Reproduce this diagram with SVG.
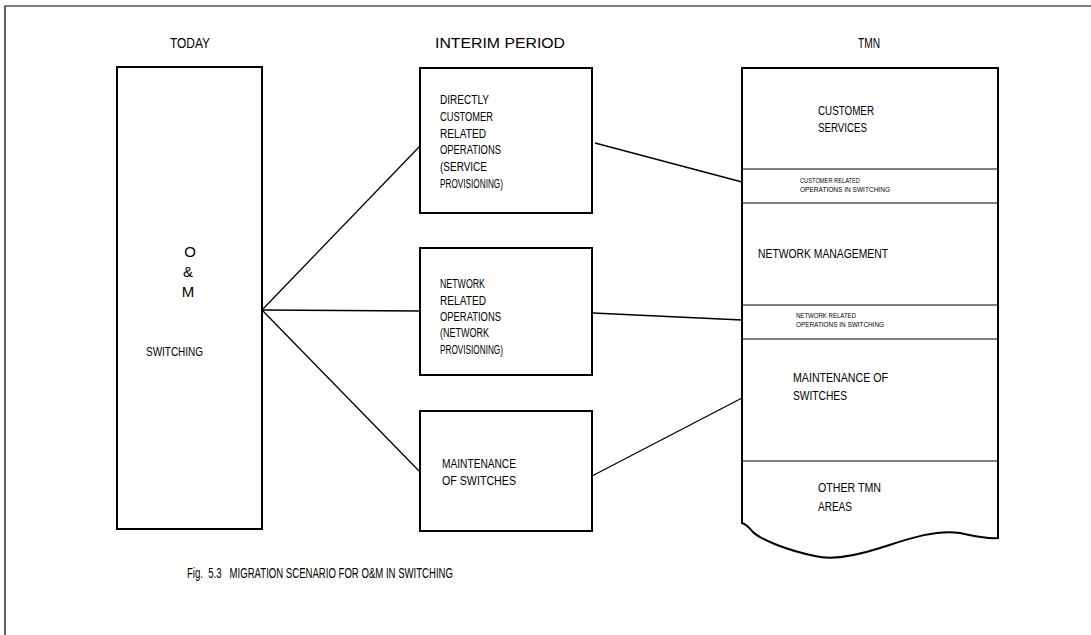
<svg xmlns="http://www.w3.org/2000/svg" width="1091" height="635" viewBox="0 0 1091 635">
<style>
.bg{fill:#ffffff}
.frame{fill:none;stroke:#000;stroke-width:1.2}
.box{fill:none;stroke:#000;stroke-width:2}
.div{fill:none;stroke:#000;stroke-width:1.2}
.conn{fill:none;stroke:#000;stroke-width:1.3}
text{font-family:"Liberation Sans",Arial,sans-serif;fill:#000}
.hd{font-size:15px}
.lb{font-size:12px}
.big{font-size:15px}
.sm{font-size:6.5px}
.cap{font-size:14px;white-space:pre}
</style>
<rect class="bg" x="0" y="0" width="1091" height="635"/>
<g id="frame">
<path class="frame" d="M5,635 L5,6 L1091,6"/>
</g>
<g id="headers">
<text class="hd" x="190" y="48" text-anchor="middle" textLength="40" lengthAdjust="spacingAndGlyphs">TODAY</text>
<text class="hd" x="500" y="48" text-anchor="middle" textLength="130" lengthAdjust="spacingAndGlyphs">INTERIM PERIOD</text>
<text class="hd" x="869" y="48" text-anchor="middle" textLength="22" lengthAdjust="spacingAndGlyphs">TMN</text>
</g>
<g id="connectors">
<line class="conn" x1="262" y1="310" x2="420" y2="146"/>
<line class="conn" x1="262" y1="310" x2="420" y2="311"/>
<line class="conn" x1="262" y1="310" x2="420" y2="472"/>
<line class="conn" x1="595" y1="143" x2="742" y2="182"/>
<line class="conn" x1="593" y1="313" x2="742" y2="320"/>
<line class="conn" x1="592" y1="476" x2="742" y2="398"/>
</g>
<g id="today">
<rect class="box" x="117" y="67" width="145" height="462"/>
<text class="big" x="190" y="257" text-anchor="middle">O</text>
<text class="big" x="188" y="277" text-anchor="middle">&amp;</text>
<text class="big" x="188" y="297" text-anchor="middle">M</text>
<text class="lb" x="146" y="356" textLength="57" lengthAdjust="spacingAndGlyphs">SWITCHING</text>
</g>
<g id="interim-customer">
<rect class="box" x="420" y="68" width="172" height="145"/>
<text class="lb" x="440" y="104" textLength="49" lengthAdjust="spacingAndGlyphs">DIRECTLY</text>
<text class="lb" x="440" y="121" textLength="53" lengthAdjust="spacingAndGlyphs">CUSTOMER</text>
<text class="lb" x="440" y="138" textLength="46" lengthAdjust="spacingAndGlyphs">RELATED</text>
<text class="lb" x="440" y="154" textLength="61" lengthAdjust="spacingAndGlyphs">OPERATIONS</text>
<text class="lb" x="440" y="171" textLength="47" lengthAdjust="spacingAndGlyphs">(SERVICE</text>
<text class="lb" x="440" y="188" textLength="63" lengthAdjust="spacingAndGlyphs">PROVISIONING)</text>
</g>
<g id="interim-network">
<rect class="box" x="420" y="248" width="172" height="127"/>
<text class="lb" x="440" y="288" textLength="45" lengthAdjust="spacingAndGlyphs">NETWORK</text>
<text class="lb" x="440" y="305" textLength="46" lengthAdjust="spacingAndGlyphs">RELATED</text>
<text class="lb" x="440" y="321" textLength="61" lengthAdjust="spacingAndGlyphs">OPERATIONS</text>
<text class="lb" x="440" y="337" textLength="49" lengthAdjust="spacingAndGlyphs">(NETWORK</text>
<text class="lb" x="440" y="354" textLength="63" lengthAdjust="spacingAndGlyphs">PROVISIONING)</text>
</g>
<g id="interim-maintenance">
<rect class="box" x="420" y="411" width="172" height="120"/>
<text class="lb" x="442" y="468" textLength="74" lengthAdjust="spacingAndGlyphs">MAINTENANCE</text>
<text class="lb" x="442" y="485" textLength="74" lengthAdjust="spacingAndGlyphs">OF SWITCHES</text>
</g>
<g id="tmn">
<path class="box" d="M742,523 L742,68 L998,68 L998,538 C985,539 975,536 960,533 C935,529 905,540 880,548 C855,556 830,560 815,556 C790,551 760,540 752,531 C748,526 745,524 742,523 Z"/>
<line class="div" x1="742" y1="169" x2="998" y2="169"/>
<line class="div" x1="742" y1="203" x2="998" y2="203"/>
<line class="div" x1="742" y1="305" x2="998" y2="305"/>
<line class="div" x1="742" y1="339" x2="998" y2="339"/>
<line class="div" x1="742" y1="461" x2="998" y2="461"/>
</g>
<g id="tmn-customer-services">
<text class="lb" x="818" y="115" textLength="56" lengthAdjust="spacingAndGlyphs">CUSTOMER</text>
<text class="lb" x="818" y="132" textLength="49" lengthAdjust="spacingAndGlyphs">SERVICES</text>
</g>
<g id="tmn-customer-ops">
<text class="sm" x="800" y="183" textLength="60" lengthAdjust="spacingAndGlyphs">CUSTOMER RELATED</text>
<text class="sm" x="800" y="192" textLength="90" lengthAdjust="spacingAndGlyphs">OPERATIONS IN SWITCHING</text>
</g>
<g id="tmn-network-management">
<text class="lb" x="758" y="258" textLength="130" lengthAdjust="spacingAndGlyphs">NETWORK MANAGEMENT</text>
</g>
<g id="tmn-network-ops">
<text class="sm" x="796" y="318" textLength="60" lengthAdjust="spacingAndGlyphs">NETWORK RELATED</text>
<text class="sm" x="796" y="327" textLength="88" lengthAdjust="spacingAndGlyphs">OPERATIONS IN SWITCHING</text>
</g>
<g id="tmn-maintenance">
<text class="lb" x="793" y="382" textLength="95" lengthAdjust="spacingAndGlyphs">MAINTENANCE OF</text>
<text class="lb" x="793" y="400" textLength="54" lengthAdjust="spacingAndGlyphs">SWITCHES</text>
</g>
<g id="tmn-other">
<text class="lb" x="818" y="492" textLength="63" lengthAdjust="spacingAndGlyphs">OTHER TMN</text>
<text class="lb" x="818" y="511" textLength="34" lengthAdjust="spacingAndGlyphs">AREAS</text>
</g>
<g id="caption">
<text class="cap" x="187" y="578" textLength="266" lengthAdjust="spacingAndGlyphs">Fig.  5.3   MIGRATION SCENARIO FOR O&amp;M IN SWITCHING</text>
</g>
</svg>
